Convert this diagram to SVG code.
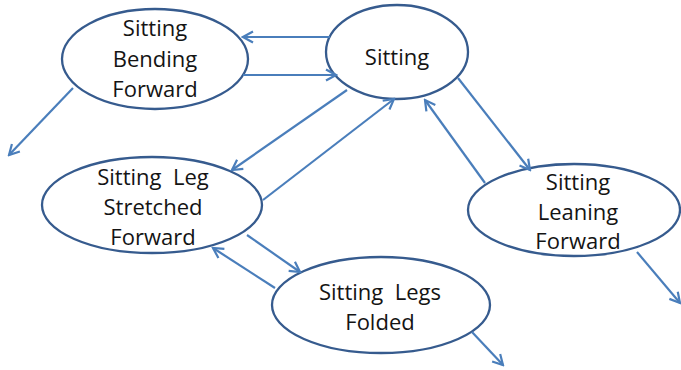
<svg xmlns="http://www.w3.org/2000/svg" width="681" height="370" viewBox="0 0 681 370">
  <style>
    .state { fill: #ffffff; stroke: #365b8e; stroke-width: 2.3; }
    .label { font-family: "Open Sans", "Liberation Sans", sans-serif; font-size: 22px; fill: #141414; text-anchor: middle; white-space: pre; }
    .edge { fill: none; stroke: #4a7ebb; stroke-width: 2.2; marker-end: url(#arrow); }
  </style>
  <defs>
    <marker id="arrow" markerUnits="userSpaceOnUse" markerWidth="14" markerHeight="14" viewBox="0 0 14 14" refX="12" refY="7" orient="auto">
      <path d="M2,1.5 L12,7 L2,12.5" fill="none" stroke="#4a7ebb" stroke-width="2.2" stroke-linejoin="miter"/>
    </marker>
  </defs>

  <g id="node-bending-forward">
    <ellipse class="state" cx="155" cy="59" rx="93" ry="50"/>
    <text class="label" x="155" y="36">Sitting</text>
    <text class="label" x="155" y="67">Bending</text>
    <text class="label" x="155" y="97">Forward</text>
  </g>

  <g id="node-sitting">
    <ellipse class="state" cx="397" cy="52" rx="71" ry="47"/>
    <text class="label" x="397" y="65">Sitting</text>
  </g>

  <g id="node-leg-stretched">
    <ellipse class="state" cx="152" cy="205" rx="110" ry="48"/>
    <text class="label" x="153" y="185">Sitting  Leg</text>
    <text class="label" x="153" y="215">Stretched</text>
    <text class="label" x="153" y="245">Forward</text>
  </g>

  <g id="node-legs-folded">
    <ellipse class="state" cx="381" cy="305" rx="109" ry="48"/>
    <text class="label" x="380" y="300">Sitting  Legs</text>
    <text class="label" x="380" y="330">Folded</text>
  </g>

  <g id="node-leaning-forward">
    <ellipse class="state" cx="574" cy="210" rx="106" ry="46"/>
    <text class="label" x="578" y="190">Sitting</text>
    <text class="label" x="578" y="220">Leaning</text>
    <text class="label" x="578" y="249">Forward</text>
  </g>

  <g id="connectors">
    <line class="edge" x1="330" y1="37" x2="243" y2="37"/>
    <line class="edge" x1="243" y1="75" x2="336" y2="75"/>
    <line class="edge" x1="73" y1="88" x2="9" y2="155"/>
    <line class="edge" x1="347" y1="90" x2="232" y2="170"/>
    <line class="edge" x1="263" y1="200" x2="394" y2="99"/>
    <line class="edge" x1="458" y1="78" x2="530" y2="170"/>
    <line class="edge" x1="485" y1="183" x2="425" y2="100"/>
    <line class="edge" x1="247" y1="235" x2="300" y2="272"/>
    <line class="edge" x1="275" y1="288" x2="213" y2="248"/>
    <line class="edge" x1="637" y1="252" x2="680" y2="303"/>
    <line class="edge" x1="472" y1="332" x2="503" y2="365"/>
  </g>
</svg>
